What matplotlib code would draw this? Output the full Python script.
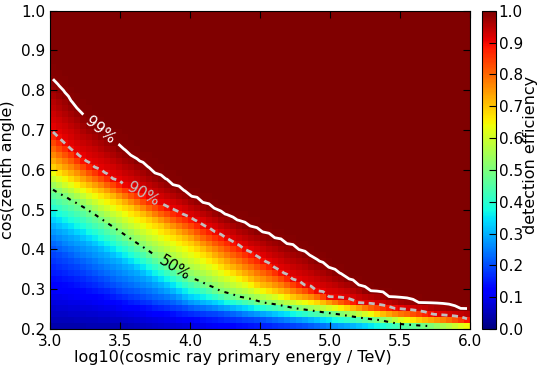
## Detection efficiency map with contour lines
import numpy as np
import matplotlib
matplotlib.use("Agg")
import matplotlib.pyplot as plt
from matplotlib.ticker import FormatStrFormatter

## Values: for each energy node, the cos(zenith)
## at which the efficiency reaches a given level
energy_nodes = [3.0, 3.25, 3.5, 3.75, 4.0, 4.25, 4.5, 4.75, 5.0, 5.25, 5.5, 5.75, 6.0]
eff_levels = [0.0, 0.1, 0.2, 0.3, 0.5, 0.7, 0.9, 0.99, 1.0]

cos_eff000 = [0.15, 0.16, 0.17, 0.16, 0.15, 0.135, 0.12, 0.11, 0.10, 0.09, 0.08, 0.07, 0.06]
cos_eff010 = [0.29, 0.27, 0.25, 0.23, 0.215, 0.20, 0.19, 0.18, 0.17, 0.155, 0.14, 0.13, 0.12]
cos_eff020 = [0.40, 0.35, 0.30, 0.27, 0.248, 0.235, 0.222, 0.21, 0.198, 0.185, 0.17, 0.16, 0.15]
cos_eff030 = [0.465, 0.42, 0.37, 0.32, 0.273, 0.255, 0.24, 0.228, 0.215, 0.203, 0.19, 0.182, 0.175]
cos_eff050 = [0.555, 0.505, 0.445, 0.385, 0.33, 0.29, 0.268, 0.252, 0.24, 0.228, 0.215, 0.206, 0.199]
cos_eff070 = [0.615, 0.565, 0.52, 0.47, 0.42, 0.36, 0.31, 0.28, 0.262, 0.245, 0.228, 0.218, 0.21]
cos_eff090 = [0.70, 0.62, 0.567, 0.52, 0.479, 0.43, 0.377, 0.32, 0.28, 0.262, 0.25, 0.236, 0.222]
cos_eff099 = [0.833, 0.73, 0.655, 0.59, 0.535, 0.485, 0.445, 0.405, 0.352, 0.30, 0.273, 0.26, 0.248]
cos_eff100 = [0.90, 0.80, 0.72, 0.65, 0.58, 0.53, 0.49, 0.45, 0.39, 0.33, 0.30, 0.285, 0.27]

contour_levels = [0.5, 0.9, 0.99]
contour_labels = {0.5: "50%", 0.9: "90%", 0.99: "99%"}
cbar_ticks = [0.0, 0.1, 0.2, 0.3, 0.4, 0.5, 0.6, 0.7, 0.8, 0.9, 1.0]

## Binning of the map
e_edges = np.linspace(3.0, 6.0, 71)
c_edges = np.linspace(0.2, 1.0, 55)
e_cent = 0.5 * (e_edges[1:] + e_edges[:-1])
c_cent = 0.5 * (c_edges[1:] + c_edges[:-1])

pos_table = np.array([cos_eff000, cos_eff010, cos_eff020, cos_eff030, cos_eff050,
                      cos_eff070, cos_eff090, cos_eff099, cos_eff100])

eff = np.zeros((len(c_cent), len(e_cent)))
for j, e in enumerate(e_cent):
    pos = [np.interp(e, energy_nodes, row) for row in pos_table]
    eff[:, j] = np.interp(c_cent, pos, eff_levels)

plt.rcParams['font.family'] = 'DejaVu Sans'
plt.rcParams['font.size'] = 11
plt.rcParams['xtick.direction'] = 'in'
plt.rcParams['ytick.direction'] = 'in'
plt.rcParams['xtick.top'] = True
plt.rcParams['ytick.right'] = True

fig = plt.figure(figsize=(5.37, 3.72), dpi=100)
ax = fig.add_axes([50/537, 1 - 329/372, 420/537, 318.3/372])

mesh = ax.pcolormesh(e_edges, c_edges, eff, cmap='jet', vmin=0, vmax=1)

cs = ax.contour(e_cent, c_cent, eff, levels=contour_levels,
                colors=['k', '0.75', 'w'],
                linestyles=[(0, (2, 2.5, 0.8, 2.5)), (0, (2.2, 1.6)), 'solid'],
                linewidths=[1.5, 2, 2])
ax.clabel(cs, fmt=contour_labels, fontsize=11, inline=True, inline_spacing=6,
          manual=[(3.89, 0.353), (3.68, 0.55), (3.36, 0.70)])

ax.set_xlim(3.0, 6.0)
ax.set_ylim(0.2, 1.0)
ax.xaxis.set_major_formatter(FormatStrFormatter('%.1f'))
ax.yaxis.set_major_formatter(FormatStrFormatter('%.1f'))
ax.tick_params(length=5)
ax.set_xlabel('log10(cosmic ray primary energy / TeV)', fontsize=11.5)
ax.xaxis.set_label_coords(0.436, -0.066)
ax.set_ylabel('cos(zenith angle)', fontsize=11.5)

cax = fig.add_axes([482/537, 1 - 329/372, 14/537, 318.3/372])
cbar = fig.colorbar(mesh, cax=cax, ticks=cbar_ticks)
cbar.ax.yaxis.set_major_formatter(FormatStrFormatter('%.1f'))
cbar.ax.tick_params(direction='in', length=5, pad=2)
cbar.set_label('detection efficiency', fontsize=11.5)
cbar.ax.yaxis.set_label_coords(2.93, 0.547)

fig.savefig('out.png', dpi=100)
